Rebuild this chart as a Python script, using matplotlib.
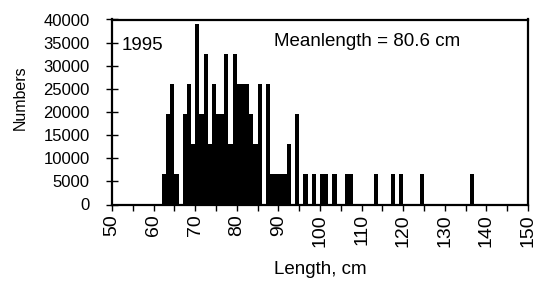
import matplotlib
matplotlib.use("Agg")
import matplotlib.pyplot as plt
import numpy as np

plt.rcParams['font.family'] = ['Liberation Sans', 'DejaVu Sans']

# length classes (cm, left edge of each 1 cm bin) and numbers
length_cm = [62, 63, 64, 65, 66, 67, 68, 69, 70, 71, 72, 73, 74, 75, 76, 77,
             78, 79, 80, 81, 82, 83, 84, 85, 86, 87, 88, 89, 90, 91, 92, 93,
             94, 95, 96, 97, 98, 99, 100, 101, 102, 103, 104, 105, 106, 107,
             113, 117, 119, 124, 136]
numbers = [6500, 19500, 26000, 6500, 0, 19500, 26000, 13000, 39000, 19500,
           32500, 13000, 26000, 19500, 19500, 32500, 13000, 32500, 26000,
           26000, 26000, 19500, 13000, 26000, 0, 26000, 6500, 6500, 6500,
           6500, 13000, 0, 19500, 0, 6500, 0, 6500, 0, 6500, 6500, 0, 6500,
           0, 0, 6500, 6500, 6500, 6500, 6500, 6500, 6500]

year_label = "1995"
mean_label = "Meanlength = 80.6 cm"

fig = plt.figure(figsize=(5.35, 2.83), dpi=100)
ax = fig.add_axes([112 / 535, 1 - 204.5 / 283, 416 / 535, 185 / 283])

ax.bar(length_cm, numbers, width=1.0, align='edge', color='black', linewidth=0)

ax.set_xlim(50, 150)
ax.set_ylim(0, 40000)
ax.set_xticks(np.arange(50, 151, 10))
ax.set_xticks(np.arange(50, 151, 5), minor=True)
ax.set_yticks(np.arange(0, 40001, 5000))

ax.tick_params(axis='x', which='both', direction='out', length=4, width=1,
               labelsize=14, labelrotation=90, pad=3)
ax.tick_params(axis='y', direction='inout', length=8, width=1,
               labelsize=12, pad=12)

for s in ax.spines.values():
    s.set_linewidth(1.6)

ax.text(0.023, 0.862, year_label, transform=ax.transAxes, fontsize=13.5,
        ha='left', va='center')
ax.text(0.389, 0.88, mean_label, transform=ax.transAxes, fontsize=13.5,
        ha='left', va='center')

fig.text(20 / 535, 1 - 98 / 283, "Numbers", rotation=90, fontsize=11.5,
         ha='center', va='center')
fig.text(320 / 535, 1 - 270 / 283, "Length, cm", fontsize=13.5,
         ha='center', va='center')

fig.savefig("out.png", dpi=100)
